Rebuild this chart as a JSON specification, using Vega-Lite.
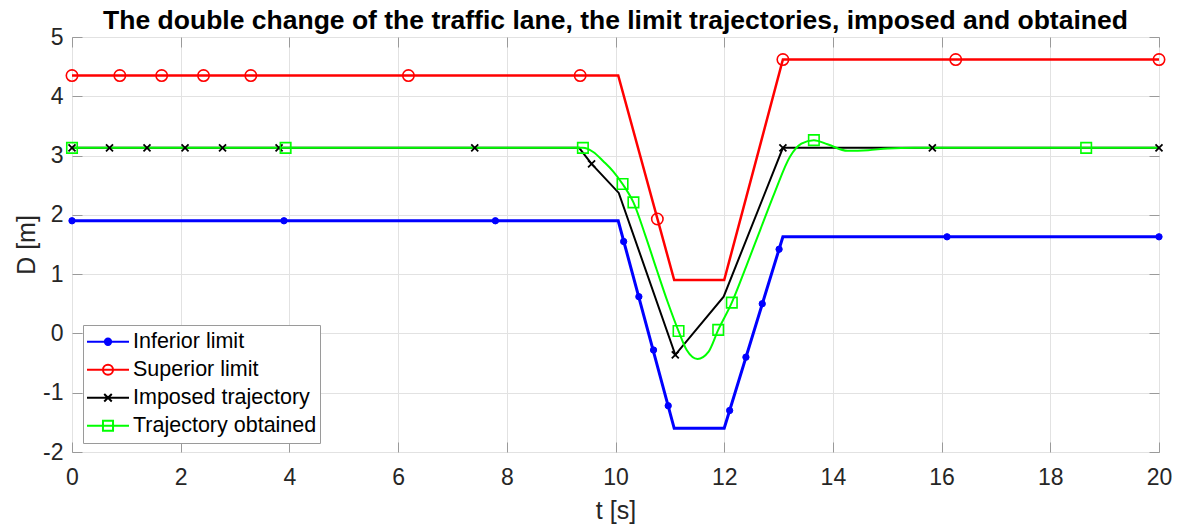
{
  "$schema": "https://vega.github.io/schema/vega-lite/v6.json",
  "width": 1087,
  "height": 415,
  "autosize": {"type": "none"},
  "padding": {"left": 72, "top": 37, "right": 19, "bottom": 72},
  "background": "white",
  "title": {
    "text": "The double change of the traffic lane, the limit trajectories, imposed and obtained",
    "font": "Liberation Sans",
    "fontSize": 26.5,
    "fontWeight": "bold",
    "color": "#000000",
    "anchor": "middle",
    "offset": -8
  },
  "config": {
    "font": "Liberation Sans",
    "view": {"stroke": "#9a9a9a", "strokeWidth": 1},
    "axis": {
      "domain": false,
      "tickColor": "#9a9a9a",
      "tickSize": -10,
      "tickWidth": 1,
      "gridColor": "#e2e2e2",
      "gridWidth": 1,
      "labelFont": "Liberation Sans",
      "labelFontSize": 23,
      "labelColor": "#262626",
      "titleFont": "Liberation Sans",
      "titleFontSize": 25,
      "titleFontWeight": "normal",
      "titleColor": "#262626"
    }
  },
  "datasets": {
    "lines": [
      {"series": "Inferior limit", "t": 0, "d": 1.9},
      {"series": "Inferior limit", "t": 10.05, "d": 1.9},
      {"series": "Inferior limit", "t": 11.08, "d": -1.6},
      {"series": "Inferior limit", "t": 12.0, "d": -1.6},
      {"series": "Inferior limit", "t": 13.08, "d": 1.63},
      {"series": "Inferior limit", "t": 20, "d": 1.63},
      {"series": "Superior limit", "t": 0, "d": 4.35},
      {"series": "Superior limit", "t": 10.05, "d": 4.35},
      {"series": "Superior limit", "t": 11.08, "d": 0.9},
      {"series": "Superior limit", "t": 12.0, "d": 0.9},
      {"series": "Superior limit", "t": 13.08, "d": 4.62},
      {"series": "Superior limit", "t": 20, "d": 4.62},
      {"series": "Imposed trajectory", "t": 0, "d": 3.13},
      {"series": "Imposed trajectory", "t": 9.33, "d": 3.13},
      {"series": "Imposed trajectory", "t": 9.56, "d": 2.86},
      {"series": "Imposed trajectory", "t": 10.06, "d": 2.37},
      {"series": "Imposed trajectory", "t": 11.1, "d": -0.36},
      {"series": "Imposed trajectory", "t": 11.99, "d": 0.62},
      {"series": "Imposed trajectory", "t": 13.08, "d": 3.13},
      {"series": "Imposed trajectory", "t": 20, "d": 3.13},
      {"series": "Trajectory obtained", "t": 0, "d": 3.13},
      {"series": "Trajectory obtained", "t": 9.4, "d": 3.13},
      {"series": "Trajectory obtained", "t": 9.59, "d": 3.06},
      {"series": "Trajectory obtained", "t": 9.78, "d": 2.9},
      {"series": "Trajectory obtained", "t": 9.96, "d": 2.73},
      {"series": "Trajectory obtained", "t": 10.13, "d": 2.52},
      {"series": "Trajectory obtained", "t": 10.33, "d": 2.21},
      {"series": "Trajectory obtained", "t": 10.55, "d": 1.65},
      {"series": "Trajectory obtained", "t": 10.76, "d": 1.07},
      {"series": "Trajectory obtained", "t": 10.96, "d": 0.53},
      {"series": "Trajectory obtained", "t": 11.16, "d": 0.04},
      {"series": "Trajectory obtained", "t": 11.31, "d": -0.28},
      {"series": "Trajectory obtained", "t": 11.51, "d": -0.43},
      {"series": "Trajectory obtained", "t": 11.71, "d": -0.31},
      {"series": "Trajectory obtained", "t": 11.89, "d": 0.06},
      {"series": "Trajectory obtained", "t": 12.14, "d": 0.52},
      {"series": "Trajectory obtained", "t": 12.4, "d": 1.12},
      {"series": "Trajectory obtained", "t": 12.66, "d": 1.74},
      {"series": "Trajectory obtained", "t": 12.93, "d": 2.38},
      {"series": "Trajectory obtained", "t": 13.21, "d": 2.98},
      {"series": "Trajectory obtained", "t": 13.42, "d": 3.2},
      {"series": "Trajectory obtained", "t": 13.65, "d": 3.26},
      {"series": "Trajectory obtained", "t": 13.9, "d": 3.19},
      {"series": "Trajectory obtained", "t": 14.27, "d": 3.08},
      {"series": "Trajectory obtained", "t": 14.65, "d": 3.09},
      {"series": "Trajectory obtained", "t": 15.01, "d": 3.12},
      {"series": "Trajectory obtained", "t": 15.5, "d": 3.13},
      {"series": "Trajectory obtained", "t": 20, "d": 3.13}
    ],
    "markers": [
      {"series": "Inferior limit", "t": 0, "d": 1.9},
      {"series": "Inferior limit", "t": 3.9, "d": 1.9},
      {"series": "Inferior limit", "t": 7.79, "d": 1.9},
      {"series": "Inferior limit", "t": 10.15, "d": 1.55},
      {"series": "Inferior limit", "t": 10.43, "d": 0.62},
      {"series": "Inferior limit", "t": 10.7, "d": -0.28},
      {"series": "Inferior limit", "t": 10.97, "d": -1.22},
      {"series": "Inferior limit", "t": 12.1, "d": -1.3},
      {"series": "Inferior limit", "t": 12.4, "d": -0.4},
      {"series": "Inferior limit", "t": 12.7, "d": 0.5},
      {"series": "Inferior limit", "t": 13.01, "d": 1.42},
      {"series": "Inferior limit", "t": 16.1, "d": 1.63},
      {"series": "Inferior limit", "t": 20, "d": 1.63},
      {"series": "Superior limit", "t": 0, "d": 4.35},
      {"series": "Superior limit", "t": 0.88, "d": 4.35},
      {"series": "Superior limit", "t": 1.65, "d": 4.35},
      {"series": "Superior limit", "t": 2.42, "d": 4.35},
      {"series": "Superior limit", "t": 3.29, "d": 4.35},
      {"series": "Superior limit", "t": 6.19, "d": 4.35},
      {"series": "Superior limit", "t": 9.35, "d": 4.35},
      {"series": "Superior limit", "t": 10.77, "d": 1.93},
      {"series": "Superior limit", "t": 13.08, "d": 4.62},
      {"series": "Superior limit", "t": 16.26, "d": 4.62},
      {"series": "Superior limit", "t": 20, "d": 4.62},
      {"series": "Imposed trajectory", "t": 0, "d": 3.13},
      {"series": "Imposed trajectory", "t": 0.69, "d": 3.13},
      {"series": "Imposed trajectory", "t": 1.38, "d": 3.13},
      {"series": "Imposed trajectory", "t": 2.08, "d": 3.13},
      {"series": "Imposed trajectory", "t": 2.77, "d": 3.13},
      {"series": "Imposed trajectory", "t": 3.81, "d": 3.13},
      {"series": "Imposed trajectory", "t": 7.41, "d": 3.13},
      {"series": "Imposed trajectory", "t": 9.56, "d": 2.86},
      {"series": "Imposed trajectory", "t": 11.1, "d": -0.36},
      {"series": "Imposed trajectory", "t": 13.08, "d": 3.13},
      {"series": "Imposed trajectory", "t": 15.83, "d": 3.13},
      {"series": "Imposed trajectory", "t": 20, "d": 3.13},
      {"series": "Trajectory obtained", "t": 0, "d": 3.13},
      {"series": "Trajectory obtained", "t": 3.93, "d": 3.13},
      {"series": "Trajectory obtained", "t": 9.4, "d": 3.13},
      {"series": "Trajectory obtained", "t": 10.13, "d": 2.52},
      {"series": "Trajectory obtained", "t": 10.33, "d": 2.21},
      {"series": "Trajectory obtained", "t": 11.16, "d": 0.04},
      {"series": "Trajectory obtained", "t": 11.89, "d": 0.06},
      {"series": "Trajectory obtained", "t": 12.14, "d": 0.52},
      {"series": "Trajectory obtained", "t": 13.65, "d": 3.26},
      {"series": "Trajectory obtained", "t": 18.66, "d": 3.13}
    ]
  },
  "resolve": {"axis": {"x": "independent", "y": "independent"}},
  "layer": [
    {
      "data": {"name": "lines"},
      "transform": [{"filter": "datum.series !== 'Trajectory obtained'"}],
      "mark": {"type": "line", "interpolate": "linear", "clip": true},
      "encoding": {
        "x": {"field": "t", "type": "quantitative", "scale": {"domain": [0, 20], "nice": false, "zero": false},
              "axis": {"orient": "bottom", "title": "t [s]", "values": [0, 2, 4, 6, 8, 10, 12, 14, 16, 18, 20], "grid": true, "labelPadding": 24, "titlePadding": 9, "labelFlush": false}},
        "y": {"field": "d", "type": "quantitative", "scale": {"domain": [-2, 5], "nice": false, "zero": false},
              "axis": {"orient": "left", "title": "D [m]", "values": [-2, -1, 0, 1, 2, 3, 4, 5], "grid": true, "labelPadding": 19, "titlePadding": 3, "labelFlush": false,
                       "labelExpr": "replace(datum.label, '\u2212', '-')"}},
        "stroke": {
          "field": "series", "type": "nominal",
          "scale": {"domain": ["Inferior limit", "Superior limit", "Imposed trajectory", "Trajectory obtained"],
                    "range": ["#0000ff", "#ff0000", "#000000", "#00ff00"]},
          "legend": {
            "title": null,
            "orient": "none",
            "legendX": 11,
            "legendY": 288,
            "fillColor": "#ffffff",
            "strokeColor": "#9a9a9a",
            "padding": 3,
            "clipHeight": 27.5,
            "rowPadding": 0,
            "symbolSize": 1764,
            "symbolStrokeWidth": 2,
            "labelOffset": 3,
            "labelFont": "Liberation Sans",
            "labelFontSize": 21.5,
            "labelColor": "#000000",
            "labelLimit": 400,
            "encode": {
              "symbols": {
                "update": {
                  "shape": {"signal": "datum.value === 'Inferior limit' ? 'M-1,0H1M-0.15,0A0.15,0.15 0 1,0 0.15,0A0.15,0.15 0 1,0 -0.15,0Z' : datum.value === 'Superior limit' ? 'M-1,0H1M-0.24,0A0.24,0.24 0 1,0 0.24,0A0.24,0.24 0 1,0 -0.24,0Z' : datum.value === 'Imposed trajectory' ? 'M-1,0H1M-0.18,-0.18L0.18,0.18M0.18,-0.18L-0.18,0.18' : 'M-1,0H1M-0.24,-0.24H0.24V0.24H-0.24Z'"},
                  "fill": {"signal": "datum.value === 'Inferior limit' ? '#0000ff' : 'transparent'"},
                  "size": {"value": 1764},
                  "strokeWidth": {"value": 2},
                  "opacity": {"value": 1}
                }
              }
            }
          }
        },
        "strokeWidth": {"field": "series", "type": "nominal",
          "scale": {"domain": ["Inferior limit", "Superior limit", "Imposed trajectory"], "range": [3, 2, 2]}, "legend": null}
      }
    },
    {
      "data": {"name": "lines"},
      "transform": [{"filter": "datum.series === 'Trajectory obtained'"}],
      "mark": {"type": "line", "interpolate": "monotone", "strokeWidth": 2, "clip": true},
      "encoding": {
        "x": {"field": "t", "type": "quantitative",
              "axis": {"orient": "top", "labels": false, "grid": false, "title": null, "values": [0, 2, 4, 6, 8, 10, 12, 14, 16, 18, 20]}},
        "y": {"field": "d", "type": "quantitative",
              "axis": {"orient": "right", "labels": false, "grid": false, "title": null, "values": [-2, -1, 0, 1, 2, 3, 4, 5]}},
        "stroke": {"field": "series", "type": "nominal"}
      }
    },
    {
      "data": {"name": "markers"},
      "transform": [{"filter": "datum.series === 'Inferior limit'"}],
      "mark": {"type": "point", "shape": "circle", "filled": true, "fill": "#0000ff", "size": 40, "strokeWidth": 1, "opacity": 1},
      "encoding": {
        "x": {"field": "t", "type": "quantitative", "axis": null},
        "y": {"field": "d", "type": "quantitative", "axis": null},
        "stroke": {"field": "series", "type": "nominal"}
      }
    },
    {
      "data": {"name": "markers"},
      "transform": [{"filter": "datum.series === 'Superior limit'"}],
      "mark": {"type": "point", "shape": "circle", "filled": false, "size": 130, "strokeWidth": 1.6, "opacity": 1},
      "encoding": {
        "x": {"field": "t", "type": "quantitative", "axis": null},
        "y": {"field": "d", "type": "quantitative", "axis": null},
        "stroke": {"field": "series", "type": "nominal"}
      }
    },
    {
      "data": {"name": "markers"},
      "transform": [{"filter": "datum.series === 'Imposed trajectory'"}],
      "mark": {"type": "point", "shape": "M-1,-1L1,1M1,-1L-1,1", "filled": false, "size": 49, "strokeWidth": 1.8, "opacity": 1},
      "encoding": {
        "x": {"field": "t", "type": "quantitative", "axis": null},
        "y": {"field": "d", "type": "quantitative", "axis": null},
        "stroke": {"field": "series", "type": "nominal"}
      }
    },
    {
      "data": {"name": "markers"},
      "transform": [{"filter": "datum.series === 'Trajectory obtained'"}],
      "mark": {"type": "point", "shape": "square", "filled": false, "size": 110, "strokeWidth": 1.6, "opacity": 1},
      "encoding": {
        "x": {"field": "t", "type": "quantitative", "axis": null},
        "y": {"field": "d", "type": "quantitative", "axis": null},
        "stroke": {"field": "series", "type": "nominal"}
      }
    }
  ]
}
